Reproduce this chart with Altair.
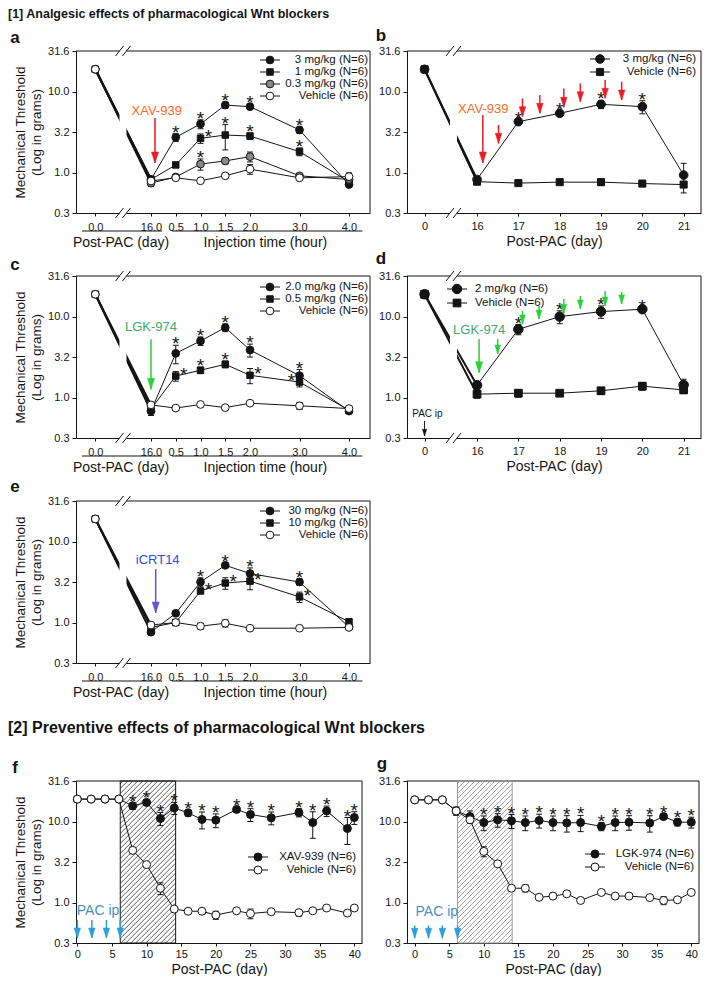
import altair as alt
import pandas as pd

FONT = "Liberation Sans"
INK = "#141414"
GRAY = "#8a8a8a"
ORANGE = "#ff6a26"
RED = "#ec1c24"
GREEN_T = "#41a86a"
GREEN_A = "#2bd13a"
BLUE_T = "#2a4de0"
BLUE_A = "#5b57d6"
SKY_T = "#4a8fbf"
SKY_A = "#2b9fdc"

# ============================ DATA ============================
# [a] XAV-939 dose response, hours after injection on day 16
a_ticks = ["0.0", "16.0", "0.5", "1.0", "1.5", "2.0", "3.0", "4.0"]
a_3mg = [18.8, 0.82, 2.72, 3.97, 6.80, 6.50, 3.35, 0.71]
a_3mg_err = [0, 0.07, 0.30, 0.50, 0.60, 0.50, 0.30, 0.05]
a_1mg = [18.8, 0.82, 1.24, 2.64, 2.90, 2.82, 1.81, 0.77]
a_1mg_err = [0, 0.05, 0.08, 0.35, 1.00, 0.25, 0.20, 0.05]
a_03mg = [18.8, 0.74, 0.88, 1.27, 1.39, 1.57, 0.91, 0.82]
a_03mg_err = [0, 0.07, 0.05, 0.20, 0.12, 0.22, 0.05, 0.05]
a_veh = [18.8, 0.785, 0.86, 0.79, 0.91, 1.10, 0.86, 0.89]
a_veh_err = [0, 0.05, 0.05, 0.03, 0.04, 0.15, 0.03, 0.10]

# [b] XAV-939 repeated dosing, days
b_ticks = ["0", "16", "17", "18", "19", "20", "21"]
b_3mg = [18.8, 0.82, 4.24, 5.38, 6.95, 6.50, 0.93]
b_3mg_err = [0, 0.05, 0.25, 0.30, 0.80, 1.20, 0.37]
b_veh = [18.8, 0.77, 0.74, 0.76, 0.76, 0.73, 0.71]
b_veh_err = [0, 0.04, 0.04, 0.04, 0.07, 0.03, 0.03]

# [c] LGK-974 dose response
c_2mg = [18.8, 0.68, 3.51, 4.99, 7.30, 3.86, 1.86, 0.68]
c_2mg_err = [0, 0.08, 0.90, 0.60, 0.80, 0.70, 0.35, 0.03]
c_05mg = [18.8, 0.72, 1.84, 2.17, 2.57, 1.88, 1.55, 0.70]
c_05mg_err = [0, 0.05, 0.25, 0.20, 0.25, 0.40, 0.20, 0.03]
c_veh = [18.8, 0.81, 0.74, 0.82, 0.75, 0.85, 0.79, 0.73]
c_veh_err = [0, 0.05, 0.03, 0.05, 0.03, 0.03, 0.08, 0.03]

# [d] LGK-974 repeated dosing
d_2mg = [18.8, 1.42, 6.95, 9.96, 11.5, 12.3, 1.43]
d_2mg_err = [0, 0.15, 1.00, 1.80, 2.00, 0.60, 0.25]
d_veh = [18.8, 1.10, 1.13, 1.13, 1.21, 1.38, 1.24]
d_veh_err = [0, 0.12, 0.12, 0.08, 0.12, 0.15, 0.12]

# [e] iCRT14 dose response
e_30mg = [19.0, 0.76, 1.30, 3.16, 5.08, 4.02, 3.16, 0.88]
e_30mg_err = [0, 0.05, 0.05, 0.40, 0.30, 0.70, 0.30, 0.05]
e_10mg = [19.0, 0.87, 1.00, 2.45, 3.07, 3.24, 2.07, 1.02]
e_10mg_err = [0, 0.05, 0.05, 0.15, 0.50, 0.70, 0.30, 0.08]
e_veh = [19.0, 0.93, 1.00, 0.90, 0.98, 0.85, 0.85, 0.87]
e_veh_err = [0, 0.05, 0.08, 0.08, 0.10, 0.03, 0.03, 0.05]

# [f] XAV-939 preventive
f_days = [0, 2, 4, 6, 8, 10, 12, 14, 16, 18, 20, 23, 25, 28, 32, 34, 36, 39, 40]
f_xav = [18.9, 18.9, 18.9, 18.9, 15.6, 17.2, 10.9, 14.7, 12.8, 10.6, 10.4, 14.1, 12.2, 11.1, 12.9, 9.7, 13.5, 8.2, 11.2]
f_xav_err = [0, 0, 0, 0, 1.5, 1.5, 2.0, 2.5, 1.2, 2.5, 2.0, 1.0, 2.2, 2.0, 1.5, 3.5, 2.0, 3.0, 2.0]
f_veh = [18.9, 18.9, 18.9, 18.9, 4.4, 2.94, 1.50, 0.83, 0.78, 0.78, 0.70, 0.79, 0.73, 0.77, 0.75, 0.79, 0.855, 0.74, 0.855]
f_veh_err = [0, 0, 0, 0, 0.4, 0.1, 0.25, 0.05, 0.04, 0.04, 0.08, 0.05, 0.1, 0.04, 0.07, 0.04, 0.04, 0.04, 0.04]

# [g] LGK-974 preventive
g_days = [0, 2, 4, 6, 8, 10, 12, 14, 16, 18, 20, 22, 24, 27, 29, 31, 34, 36, 38, 40]
g_lgk = [18.5, 18.5, 18.5, 13.5, 11.5, 9.7, 10.5, 10.2, 9.7, 10.3, 9.7, 9.6, 9.7, 8.7, 9.7, 9.8, 9.6, 11.5, 9.8, 9.8]
g_lgk_err = [0, 0, 0, 1.5, 2.0, 2.0, 2.0, 2.0, 2.0, 2.0, 2.0, 2.2, 2.2, 1.0, 2.0, 2.0, 2.2, 0.8, 1.0, 1.5]
g_veh = [18.5, 18.5, 18.5, 13.5, 10.5, 4.27, 3.0, 1.50, 1.50, 1.16, 1.20, 1.28, 1.06, 1.33, 1.20, 1.20, 1.15, 1.06, 1.08, 1.33]
g_veh_err = [0, 0, 0, 1.5, 0.8, 0.6, 0.15, 0.1, 0.15, 0.05, 0.05, 0.05, 0.05, 0.08, 0.05, 0.05, 0.06, 0.12, 0.05, 0.06]

# ====================== AXIS / LAYOUT SETUP ======================
Y_LO, Y_HI = 10 ** -0.5, 10 ** 1.5
Y_TICKS = [10 ** -0.5, 1.0, 10 ** 0.5, 10.0, 10 ** 1.5]
YTITLE = ["Mechanical Threshold", "(Log in grams)"]

H = 162
W_L, W_R, W_F, W_G = 294, 294, 286, 292
HDOM = [-1.515, 4.424]
HOUR_POS = [-1.125, 0, 0.5, 1, 1.5, 2, 3, 4]
H_BREAK = -0.566
DDOM = [14.305, 21.42]
DAY_POS = [14.73, 16, 17, 18, 19, 20, 21]
D_BREAK = 15.43
FDOM = [-0.19, 41.11]
GDOM = [-1.11, 41.12]
PRE_TICKS = [0, 5, 10, 15, 20, 25, 30, 35, 40]

ONE = pd.DataFrame({"k": [0]})
HEAD = "M-0.65,-2L0.65,-2L0,0Z"


def label_expr(values, labels):
    expr = "''"
    for v, lab in reversed(list(zip(values, labels))):
        expr = f"abs(datum.value - ({v})) < 0.001 ? '{lab}' : ({expr})"
    return expr


def y_axis(title):
    kw = dict(values=Y_TICKS, labelExpr="format(datum.value, '.1f')", grid=False,
              tickSize=4, labelPadding=3, tickColor=INK, domainColor=INK, labelColor=INK,
              labelFontSize=11, labelFont=FONT, zindex=0, labelFlush=False)
    if title:
        kw.update(title=title, titleFontSize=13.5, titleFontWeight="normal", titleFont=FONT,
                  titleColor=INK, titlePadding=4, titleLineHeight=16)
    else:
        kw.update(title=None)
    return alt.Axis(**kw)


def x_axis(values, labels, title=None, label_pad=5, tick=3):
    kw = dict(values=values, labelExpr=label_expr(values, labels), grid=False, tickSize=tick,
              labelPadding=label_pad, tickColor=INK, domainColor=INK, labelColor=INK,
              labelFontSize=11, labelFont=FONT, labelFlush=False, labelOverlap=False, zindex=0)
    if title:
        kw.update(title=title, titleFontSize=14, titleFontWeight="normal", titleFont=FONT,
                  titleColor=INK, titlePadding=3)
    else:
        kw.update(title=None)
    return alt.Axis(**kw)


def XY(xdom, xaxis, ytitle):
    xsc = alt.Scale(domain=list(xdom), nice=False, zero=False)
    ysc = alt.Scale(type="log", domain=[Y_LO, Y_HI], nice=False)
    yax = y_axis(ytitle)
    X = lambda f: alt.X(f"{f}:Q", scale=xsc, axis=xaxis)
    Y = lambda f: alt.Y(f"{f}:Q", scale=ysc, axis=yax)
    return X, Y


def frame(w, h):
    return [
        alt.Chart(ONE).mark_rule(color=INK, strokeWidth=1).encode(
            x=alt.value(0), x2=alt.value(w), y=alt.value(0)),
        alt.Chart(ONE).mark_rule(color=INK, strokeWidth=1).encode(
            x=alt.value(w), y=alt.value(0), y2=alt.value(h)),
    ]


def series_layers(s, X, Y, thick_first):
    vals, errs = s["y"], s["e"]
    df = pd.DataFrame({"x": s["x"], "y": vals,
                       "lo": [v - e for v, e in zip(vals, errs)],
                       "hi": [v + e for v, e in zip(vals, errs)],
                       "e": errs})
    out = [alt.Chart(df).mark_line(color=INK, strokeWidth=1).encode(x=X("x"), y=Y("y"))]
    if thick_first:
        out.append(alt.Chart(df.iloc[:2]).mark_line(color=INK, strokeWidth=2).encode(x=X("x"), y=Y("y")))
    eb = df[df["e"] > 0]
    out.append(alt.Chart(eb).mark_rule(color=INK, strokeWidth=1).encode(x=X("x"), y=Y("lo"), y2=alt.Y2("hi")))
    for f in ("lo", "hi"):
        out.append(alt.Chart(eb).mark_tick(orient="horizontal", size=6, thickness=1, color=INK, opacity=1)
                   .encode(x=X("x"), y=Y(f)))
    out.append(alt.Chart(df).mark_point(shape=s["shape"], filled=True, fill=s["fill"], stroke=INK,
                                        strokeWidth=1, size=s["size"], opacity=1)
               .encode(x=X("x"), y=Y("y")))
    return out


def star_layers(stars, series, X, Y):
    byname = {s["name"]: s for s in series}
    rows = []
    for name, i, side in stars:
        s = byname[name]
        rows.append(dict(x=s["x"][i], hi=s["y"][i] + s["e"][i], v=s["y"][i], side=side))
    df = pd.DataFrame(rows)
    out = []
    for side, field, dx in (("t", "hi", 0), ("r", "v", 8), ("l", "v", -8)):
        sub = df[df["side"] == side]
        if len(sub):
            out.append(alt.Chart(sub).mark_text(text="*", fontSize=19, font=FONT, color=INK,
                                                baseline="alphabetic", dx=dx, dy=5)
                       .encode(x=X("x"), y=Y(field)))
    return out


def break_layers(center, kx, h, X, Y):
    hw = 3.5 / kx
    band = pd.DataFrame({"x": [center - hw], "x2": [center + hw]})
    out = [alt.Chart(band).mark_rect(color="white", opacity=1).encode(
        x=X("x"), x2=alt.X2("x2"), y=alt.value(-3), y2=alt.value(h + 3))]
    k = 2.0 / h
    rows = []
    for cx in (center - hw, center + hw):
        for base in (1.5, -0.5):
            rows.append({"x": cx - 4.0 / kx, "x2": cx + 4.0 / kx,
                         "y": 10 ** (base - 5 * k), "y2": 10 ** (base + 5 * k)})
    out.append(alt.Chart(pd.DataFrame(rows)).mark_rule(color=INK, strokeWidth=1).encode(
        x=X("x"), x2=alt.X2("x2"), y=Y("y"), y2=alt.Y2("y2")))
    return out


def hatch_layers(x0, x1, xdom, w, h, X, Y, line_color, border_color, step=5.0):
    kx = w / (xdom[1] - xdom[0])
    p0 = (x0 - xdom[0]) * kx
    p1 = (x1 - xdom[0]) * kx
    rows = []
    c = p0 - h + step / 2
    while c < p1:
        xa, xb = max(p0, c), min(p1, c + h)
        if xb > xa:
            ya, yb = xa - c, xb - c
            rows.append({"x": xdom[0] + xa / kx, "x2": xdom[0] + xb / kx,
                         "y": 10 ** (-0.5 + 2 * ya / h), "y2": 10 ** (-0.5 + 2 * yb / h)})
        c += step
    out = [alt.Chart(pd.DataFrame(rows)).mark_rule(color=line_color, strokeWidth=0.8).encode(
        x=X("x"), x2=alt.X2("x2"), y=Y("y"), y2=alt.Y2("y2"))]
    box = pd.DataFrame({"x": [x0], "x2": [x1]})
    out.append(alt.Chart(box).mark_rect(fill="white", fillOpacity=0, stroke=border_color, strokeWidth=1)
               .encode(x=X("x"), x2=alt.X2("x2"), y=alt.value(0), y2=alt.value(h)))
    return out


def arrow_layers(xs, tops, bots, color, X, Y, head_size=110, width=1.5):
    df = pd.DataFrame({"x": xs, "top": tops, "bot": bots})
    return [
        alt.Chart(df).mark_rule(color=color, strokeWidth=width).encode(x=X("x"), y=Y("top"), y2=alt.Y2("bot")),
        alt.Chart(df).mark_point(shape=HEAD, filled=True, fill=color, stroke=color, strokeWidth=0.5,
                                 size=head_size, opacity=1).encode(x=X("x"), y=Y("bot")),
    ]


def text_data(x, y, label, color, size, X, Y, weight="normal", align="center"):
    df = pd.DataFrame({"x": [x], "y": [y]})
    return alt.Chart(df).mark_text(text=label, color=color, fontSize=size, font=FONT, fontWeight=weight,
                                   align=align, baseline="middle").encode(x=X("x"), y=Y("y"))


def text_px(x, y, label, size, weight="normal", align="left", baseline="middle", color=INK, font=FONT):
    return alt.Chart(ONE).mark_text(text=label, color=color, fontSize=size, font=font, fontWeight=weight,
                                    align=align, baseline=baseline).encode(x=alt.value(x), y=alt.value(y))


def legend_layers(entries, x_sym, x_text, ys, align, fs=11.5, half=10):
    out = []
    for (label, shape, fill, size), y in zip(entries, ys):
        out.append(alt.Chart(ONE).mark_rule(color=INK, strokeWidth=1).encode(
            x=alt.value(x_sym - half), x2=alt.value(x_sym + half), y=alt.value(y)))
        out.append(alt.Chart(ONE).mark_point(shape=shape, filled=True, fill=fill, stroke=INK, strokeWidth=1,
                                             size=size, opacity=1).encode(x=alt.value(x_sym), y=alt.value(y)))
        out.append(text_px(x_text, y, label, fs, align=align))
    return out


def hour_notes(X, h):
    d1 = pd.DataFrame({"x": [-1.394], "x2": [0.222]})
    d2 = pd.DataFrame({"x": [0.424], "x2": [4.27]})
    t1 = pd.DataFrame({"x": [-0.606]})
    t2 = pd.DataFrame({"x": [2.31]})
    out = []
    for d in (d1, d2):
        out.append(alt.Chart(d).mark_rule(color=INK, strokeWidth=1).encode(
            x=X("x"), x2=alt.X2("x2"), y=alt.value(h + 18)))
    for d, lab in ((t1, "Post-PAC (day)"), (t2, "Injection time (hour)")):
        out.append(alt.Chart(d).mark_text(text=lab, fontSize=14, font=FONT, color=INK, baseline="middle")
                   .encode(x=X("x"), y=alt.value(h + 30)))
    return out


def S(name, x, y, e, shape, fill, size):
    return dict(name=name, x=x, y=y, e=e, shape=shape, fill=fill, size=size)


HOUR_AXIS = x_axis(HOUR_POS, a_ticks, label_pad=5)
DAY_AXIS = x_axis(DAY_POS, b_ticks, "Post-PAC (day)", 4)
PRE_AXIS = x_axis(PRE_TICKS, [str(t) for t in PRE_TICKS], "Post-PAC (day)", 2)

# ============================ PANEL a ============================
X, Y = XY(HDOM, HOUR_AXIS, YTITLE)
kx = W_L / (HDOM[1] - HDOM[0])
a_series = [S("3", HOUR_POS, a_3mg, a_3mg_err, "circle", INK, 60),
            S("1", HOUR_POS, a_1mg, a_1mg_err, "square", INK, 42),
            S("0.3", HOUR_POS, a_03mg, a_03mg_err, "circle", GRAY, 60),
            S("v", HOUR_POS, a_veh, a_veh_err, "circle", "white", 60)]
a_stars = [("3", 2, "t"), ("3", 3, "t"), ("3", 4, "t"), ("3", 5, "t"), ("3", 6, "t"),
           ("1", 3, "r"), ("1", 4, "t"), ("1", 5, "t"), ("1", 6, "t"), ("0.3", 3, "t")]
L = frame(W_L, H)
for s in a_series:
    L += series_layers(s, X, Y, True)
L += star_layers(a_stars, a_series, X, Y)
L += break_layers(H_BREAK, kx, H, X, Y)
L += hour_notes(X, H)
L += arrow_layers([0.081], [4.71], [1.31], RED, X, Y, 121, 1.5)
L.append(text_data(0.115, 5.8, "XAV-939", ORANGE, 13, X, Y))
L += legend_layers([("3 mg/kg (N=6)", "circle", INK, 60), ("1 mg/kg (N=6)", "square", INK, 42),
                    ("0.3 mg/kg (N=6)", "circle", GRAY, 60), ("Vehicle (N=6)", "circle", "white", 60)],
                   194, W_L - 2, [9, 21, 33, 45], "right")
L.append(text_px(-61, -13, "a", 17, "bold", "center"))
L.append(text_px(-68, -43, "[1] Analgesic effects of pharmacological Wnt blockers", 12.5, "bold",
                 "left", baseline="top"))
panel_a = alt.layer(*L).properties(width=W_L, height=H)

# ============================ PANEL b ============================
X, Y = XY(DDOM, DAY_AXIS, None)
kx = W_R / (DDOM[1] - DDOM[0])
b_series = [S("v", DAY_POS, b_veh, b_veh_err, "square", INK, 50),
            S("3", DAY_POS, b_3mg, b_3mg_err, "circle", INK, 75)]
b_stars = [("3", 2, "t"), ("3", 3, "t"), ("3", 4, "t"), ("3", 5, "t")]
L = frame(W_R, H)
for s in b_series:
    L += series_layers(s, X, Y, True)
L += star_layers(b_stars, b_series, X, Y)
L += break_layers(D_BREAK, kx, H, X, Y)
L += arrow_layers([16.14], [5.13], [1.31], RED, X, Y, 121, 1.5)
L += arrow_layers([16.52, 17.1, 17.52, 18.1, 18.5, 19.1, 19.5],
                  [3.86, 8.24, 9.06, 10.9, 12.6, 13.9, 13.2],
                  [2.29, 4.89, 5.38, 6.38, 7.48, 8.24, 7.85], RED, X, Y, 100, 1.5)
L.append(text_data(16.15, 6.08, "XAV-939", ORANGE, 13, X, Y))
L += legend_layers([("3 mg/kg (N=6)", "circle", INK, 75), ("Vehicle (N=6)", "square", INK, 50)],
                   193, W_R - 5, [8, 21], "right")
L.append(text_px(-26, -15, "b", 17, "bold", "center"))
panel_b = alt.layer(*L).properties(width=W_R, height=H)

# ============================ PANEL c ============================
X, Y = XY(HDOM, HOUR_AXIS, YTITLE)
kx = W_L / (HDOM[1] - HDOM[0])
c_series = [S("2", HOUR_POS, c_2mg, c_2mg_err, "circle", INK, 60),
            S("0.5", HOUR_POS, c_05mg, c_05mg_err, "square", INK, 42),
            S("v", HOUR_POS, c_veh, c_veh_err, "circle", "white", 60)]
c_stars = [("2", 2, "t"), ("2", 3, "t"), ("2", 4, "t"), ("2", 5, "t"), ("2", 6, "t"),
           ("0.5", 2, "r"), ("0.5", 3, "t"), ("0.5", 4, "t"), ("0.5", 5, "r"), ("0.5", 6, "l")]
L = frame(W_L, H)
for s in c_series:
    L += series_layers(s, X, Y, True)
L += star_layers(c_stars, c_series, X, Y)
L += break_layers(H_BREAK, kx, H, X, Y)
L += hour_notes(X, H)
L += arrow_layers([0.0], [5.24], [1.26], GREEN_A, X, Y, 121, 1.5)
L.append(text_data(0.0, 7.42, "LGK-974", GREEN_T, 13, X, Y))
L += legend_layers([("2.0 mg/kg (N=6)", "circle", INK, 60), ("0.5 mg/kg (N=6)", "square", INK, 42),
                    ("Vehicle (N=6)", "circle", "white", 60)],
                   194, W_L - 2, [11, 23, 35], "right")
L.append(text_px(-61, -11, "c", 17, "bold", "center"))
panel_c = alt.layer(*L).properties(width=W_L, height=H)

# ============================ PANEL d ============================
X, Y = XY(DDOM, DAY_AXIS, None)
kx = W_R / (DDOM[1] - DDOM[0])
d_series = [S("v", DAY_POS, d_veh, d_veh_err, "square", INK, 60),
            S("2", DAY_POS, d_2mg, d_2mg_err, "circle", INK, 90)]
d_stars = [("2", 2, "t"), ("2", 3, "t"), ("2", 4, "t"), ("2", 5, "t")]
L = frame(W_R, H)
for s in d_series:
    L += series_layers(s, X, Y, True)
L += star_layers(d_stars, d_series, X, Y)
L += break_layers(D_BREAK, kx, H, X, Y)
L += arrow_layers([16.05], [5.27], [2.02], GREEN_A, X, Y, 121, 1.5)
L += arrow_layers([16.5, 17.1, 17.5, 18.1, 18.5, 19.1, 19.5],
                  [5.27, 11.7, 13.5, 16.5, 17.9, 20.7, 20.1],
                  [3.44, 8.07, 9.31, 11.0, 12.4, 13.5, 14.3], GREEN_A, X, Y, 80, 1.5)
L += arrow_layers([14.73], [0.513], [0.335], INK, X, Y, 45, 1)
L.append(text_data(16.05, 6.81, "LGK-974", GREEN_T, 13, X, Y))
L.append(text_data(14.8, 0.63, "PAC ip", INK, 10, X, Y))
L += legend_layers([("2 mg/kg (N=6)", "circle", INK, 90), ("Vehicle (N=6)", "square", INK, 60)],
                   50, 68, [13, 27], "left")
L.append(text_px(-26, -17, "d", 17, "bold", "center"))
panel_d = alt.layer(*L).properties(width=W_R, height=H)

# ============================ PANEL e ============================
X, Y = XY(HDOM, HOUR_AXIS, YTITLE)
kx = W_L / (HDOM[1] - HDOM[0])
e_series = [S("30", HOUR_POS, e_30mg, e_30mg_err, "circle", INK, 60),
            S("10", HOUR_POS, e_10mg, e_10mg_err, "square", INK, 42),
            S("v", HOUR_POS, e_veh, e_veh_err, "circle", "white", 60)]
e_stars = [("30", 3, "t"), ("30", 4, "t"), ("30", 5, "t"), ("30", 6, "t"),
           ("10", 3, "r"), ("10", 4, "r"), ("10", 5, "r"), ("10", 6, "r")]
L = frame(W_L, H)
for s in e_series:
    L += series_layers(s, X, Y, True)
L += star_layers(e_stars, e_series, X, Y)
L += break_layers(H_BREAK, kx, H, X, Y)
L += hour_notes(X, H)
L += arrow_layers([0.095], [4.57], [1.31], BLUE_A, X, Y, 121, 1.5)
L.append(text_data(0.135, 5.96, "iCRT14", BLUE_T, 13, X, Y))
L += legend_layers([("30 mg/kg (N=6)", "circle", INK, 60), ("10 mg/kg (N=6)", "square", INK, 42),
                    ("Vehicle (N=6)", "circle", "white", 60)],
                   194, W_L - 2, [10, 22, 34], "right")
L.append(text_px(-61, -14, "e", 17, "bold", "center"))
panel_e = alt.layer(*L).properties(width=W_L, height=H)

# spacer cell beside panel e (keeps the larger gap before section [2])
spacer = alt.Chart(ONE).mark_point(opacity=0).encode(
    x=alt.value(0), y=alt.value(0)).properties(width=10, height=217)

# ============================ PANEL f ============================
X, Y = XY(FDOM, PRE_AXIS, YTITLE)
f_series = [S("x", f_days, f_xav, f_xav_err, "circle", INK, 64),
            S("v", f_days, f_veh, f_veh_err, "circle", "white", 64)]
f_stars = [("x", i, "t") for i in range(4, len(f_days))]
L = frame(W_F, H)
L += hatch_layers(6.2, 14.2, FDOM, W_F, H, X, Y, "#333333", INK)
for s in f_series:
    L += series_layers(s, X, Y, False)
L += star_layers(f_stars, f_series, X, Y)
L += arrow_layers([0, 2.1, 4.2, 6.2], [0.608] * 4, [0.365] * 4, SKY_A, X, Y, 100, 1.5)
L.append(text_data(3.0, 0.775, "PAC ip", SKY_T, 14, X, Y))
L += legend_layers([("XAV-939 (N=6)", "circle", INK, 64), ("Vehicle (N=6)", "circle", "white", 64)],
                   182, W_F - 6, [76, 89], "right")
L.append(text_px(-61, -13, "f", 17, "bold", "center"))
L.append(text_px(-68, -53, "[2] Preventive effects of pharmacological Wnt blockers", 16, "bold",
                 "left", baseline="middle"))
panel_f = alt.layer(*L).properties(width=W_F, height=H)

# ============================ PANEL g ============================
X, Y = XY(GDOM, PRE_AXIS, None)
g_series = [S("l", g_days, g_lgk, g_lgk_err, "circle", INK, 64),
            S("v", g_days, g_veh, g_veh_err, "circle", "white", 64)]
g_stars = [("l", i, "t") for i in range(5, len(g_days))]
L = frame(W_G, H)
L += hatch_layers(6.2, 14.1, GDOM, W_G, H, X, Y, "#8c8c8c", "#9a9a9a")
for s in g_series:
    L += series_layers(s, X, Y, False)
L += star_layers(g_stars, g_series, X, Y)
L += arrow_layers([0, 2.0, 4.0, 6.2], [0.52] * 4, [0.362] * 4, SKY_A, X, Y, 100, 1.5)
L.append(text_data(3.2, 0.758, "PAC ip", SKY_T, 14, X, Y))
L += legend_layers([("LGK-974 (N=6)", "circle", INK, 64), ("Vehicle (N=6)", "circle", "white", 64)],
                   188, W_G - 5, [73, 86], "right")
L.append(text_px(-25, -17, "g", 17, "bold", "center"))
panel_g = alt.layer(*L).properties(width=W_G, height=H)

# ============================ LAYOUT ============================
chart = (
    alt.concat(panel_a, panel_b, panel_c, panel_d, panel_e, spacer, panel_f, panel_g,
               columns=2, spacing={"row": 63, "column": 37}, bounds="flush", padding=0)
    .configure(font=FONT)
    .configure_view(strokeWidth=0)
)

chart.save("out.html", embed_options={"renderer": "svg", "actions": False})
